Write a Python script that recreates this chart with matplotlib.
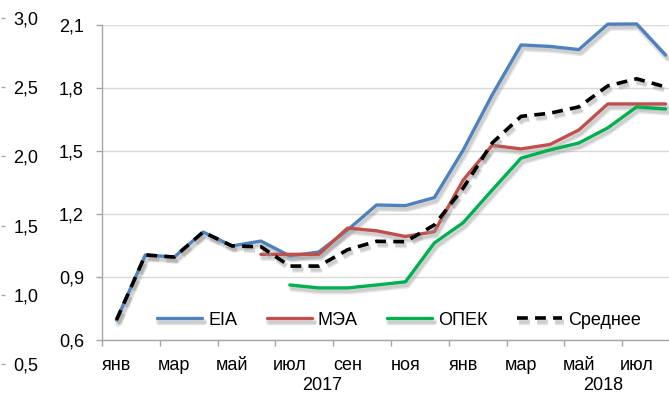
import numpy as np
import matplotlib
matplotlib.use("Agg")
import matplotlib.pyplot as plt
import matplotlib.patheffects as pe
from matplotlib.ticker import FixedLocator, FuncFormatter

plt.rcParams['font.family'] = ['Liberation Sans', 'DejaVu Sans']

# янв 2017 ... авг 2018, значения по месяцам
months = ['янв', 'фев', 'мар', 'апр', 'май', 'июн', 'июл', 'авг', 'сен', 'окт', 'ноя', 'дек',
          'янв', 'фев', 'мар', 'апр', 'май', 'июн', 'июл', 'авг']
nan = np.nan
eia = [0.695, 1.005, 0.995, 1.114, 1.048, 1.071, 1.000, 1.019, 1.124, 1.243, 1.240, 1.278,
       1.505, 1.767, 2.005, 1.998, 1.983, 2.104, 2.105, 1.957]
mea = [nan, nan, nan, nan, nan, 1.008, 1.008, 1.008, 1.133, 1.120, 1.093, 1.116,
       1.362, 1.527, 1.510, 1.531, 1.600, 1.724, 1.724, 1.724]
opec = [nan, nan, nan, nan, nan, nan, 0.862, 0.848, 0.848, 0.862, 0.877, 1.062,
        1.159, 1.314, 1.466, 1.505, 1.538, 1.610, 1.710, 1.700]
avg = [0.695, 1.005, 0.995, 1.114, 1.048, 1.044, 0.952, 0.952, 1.030, 1.070, 1.068, 1.148,
       1.324, 1.538, 1.665, 1.680, 1.710, 1.810, 1.844, 1.805]
years = ['2017', '2018']
year_pos = [7.11, 16.84]

outer_ticks = [0.5, 1.0, 1.5, 2.0, 2.5, 3.0]
inner_ticks = [0.6, 0.9, 1.2, 1.5, 1.8, 2.1]

W, H = 669, 396
fig = plt.figure(figsize=(W / 100, H / 100), dpi=100)

# основная область графика (правый край уходит за рамку)
left, right, top, bottom = 102, 680, 25, 340
ax = fig.add_axes([left / W, (H - bottom) / H, (right - left) / W, (bottom - top) / H])

x = np.arange(len(months))
shadow = [pe.SimpleLineShadow(offset=(1.5, -2.5), shadow_color='#999999', alpha=0.25, linewidth=4.5),
          pe.SimpleLineShadow(offset=(1.5, -2.5), shadow_color='#999999', alpha=0.3),
          pe.Normal()]
style = dict(lw=2.4, path_effects=shadow, clip_on=False,
             solid_capstyle='round', solid_joinstyle='round')
ax.plot(x, eia, color='#4F81BD', label='EIA', zorder=3, **style)
ax.plot(x, mea, color='#C0504D', label='МЭА', zorder=4, **style)
ax.plot(x, opec, color='#00B050', label='ОПЕК', zorder=5, **style)
ax.plot(x, avg, color='black', lw=2.6, ls=(0, (3, 2)), label='Среднее', path_effects=shadow,
        zorder=6, dash_joinstyle='round')

ax.set_xlim(-0.5, len(months) - 0.5)
ax.set_ylim(0.6, 2.1)

ax.set_yticks(inner_ticks)
ax.yaxis.set_major_formatter(FuncFormatter(lambda v, p: f'{v:.1f}'.replace('.', ',')))
ax.grid(axis='y', color='#D9D9D9', lw=1)
ax.set_axisbelow(True)

ax.set_xticks(x[::2])
ax.set_xticklabels(months[::2])
ax.xaxis.set_minor_locator(FixedLocator(np.arange(-0.5, len(months), 2)))
ax.tick_params(axis='x', which='major', length=0, pad=12, labelsize=13)
ax.tick_params(axis='x', which='minor', length=4, color='#A6A6A6', width=1)
ax.tick_params(axis='y', length=4, color='#A6A6A6', width=1, pad=9, labelsize=13)

for s in ['top', 'right']:
    ax.spines[s].set_visible(False)
for s in ['left', 'bottom']:
    ax.spines[s].set_color('#A6A6A6')
    ax.spines[s].set_linewidth(1)

for name, pos in zip(years, year_pos):
    ax.text(pos, -0.160, name, transform=ax.get_xaxis_transform(), ha='center',
            va='baseline', fontsize=13)

ax.legend(loc='center', bbox_to_anchor=(0.514, 0.063), ncol=4, frameon=False, fontsize=13,
          handlelength=2.5, handletextpad=0.35, columnspacing=1.6)

# внешняя шкала слева
ax2 = fig.add_axes([0, (H - 364) / H, 0.001, (364 - 18) / H])
ax2.set_ylim(0.5, 3.0)
ax2.set_yticks(outer_ticks)
ax2.yaxis.set_major_formatter(FuncFormatter(lambda v, p: f'{v:.1f}'.replace('.', ',')))
ax2.yaxis.tick_right()
ax2.tick_params(axis='y', length=3, color='#A6A6A6', width=1, pad=6, labelsize=13)
ax2.set_xticks([])
for s in ax2.spines.values():
    s.set_visible(False)
ax2.patch.set_visible(False)

fig.savefig('out.png', dpi=100)
